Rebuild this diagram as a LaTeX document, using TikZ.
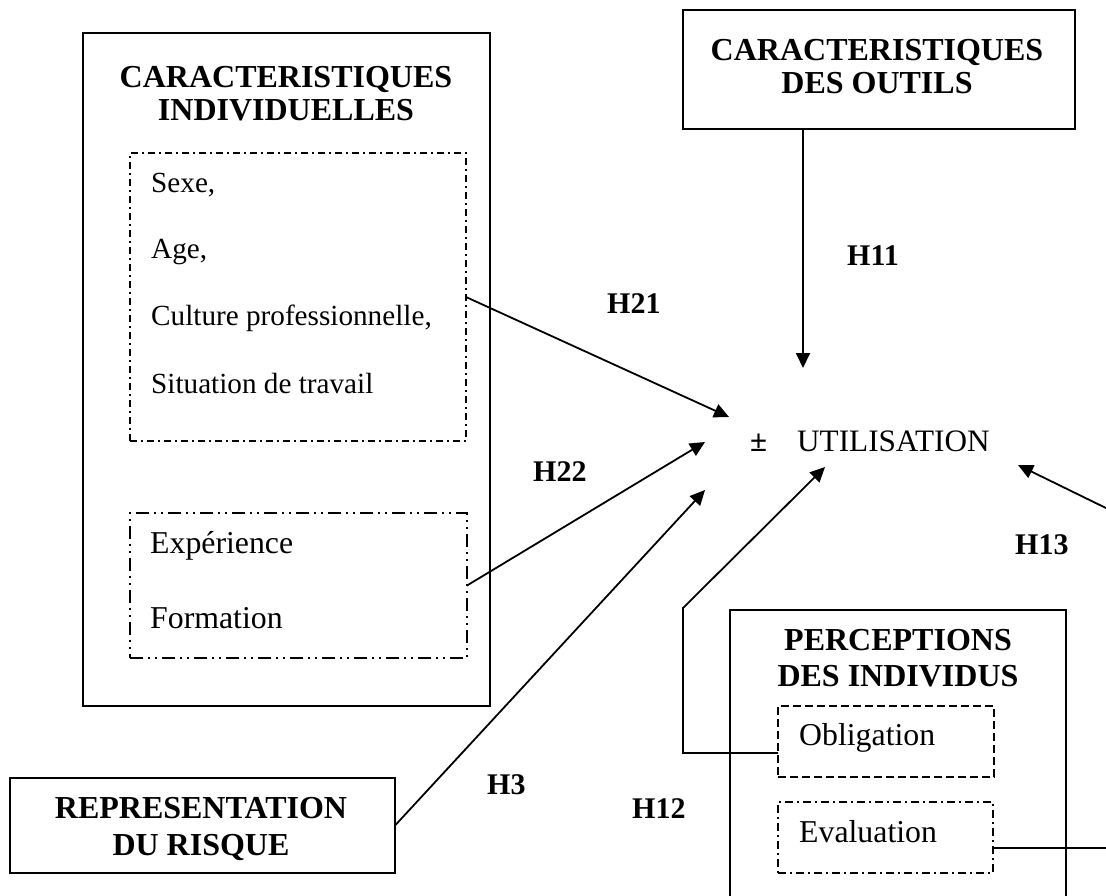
\documentclass[tikz,border=0pt]{standalone}
\usepackage{fontspec}
\setmainfont{Liberation Serif}
\usetikzlibrary{arrows.meta}
\tikzset{
  solidbox/.style={draw, line width=1.4pt, inner sep=0pt, outer sep=0pt},
  dashdotbox/.style={draw, line width=1.3pt, inner sep=0pt, outer sep=0pt, dash pattern=on 7pt off 4pt on 2pt off 4pt},
  dashdotdotbox/.style={draw, line width=1.3pt, inner sep=0pt, outer sep=0pt, dash pattern=on 13pt off 5pt on 2pt off 5pt on 2pt off 5pt},
  dashbox/.style={draw, line width=1.3pt, inner sep=0pt, outer sep=0pt, dash pattern=on 8pt off 4pt},
  evalbox/.style={draw, line width=1.3pt, inner sep=0pt, outer sep=0pt, dash pattern=on 8pt off 4pt on 2pt off 4pt},
  ttl/.style={inner sep=0pt, anchor=base, font=\fontsize{32}{36}\selectfont\bfseries},
  bigtxt/.style={inner sep=0pt, anchor=base west, font=\fontsize{31.8}{36}\selectfont},
  smalltxt/.style={inner sep=0pt, anchor=base west, font=\fontsize{29.2}{33}\selectfont},
  hlab/.style={inner sep=0pt, anchor=base west, font=\fontsize{30}{34}\selectfont\bfseries},
  conn/.style={line width=1.8pt},
  arr/.style={conn, -{Triangle[length=15pt,width=14pt]}},
}
\begin{document}
\begin{tikzpicture}[x=1pt, y=-1pt]
\useasboundingbox (0,0) rectangle (1106,895);
\clip (0,0) rectangle (1106,895);

% boxes
\node[solidbox, minimum width=407pt, minimum height=673pt] (indiv) at (286.5,369.5) {};
\node[dashdotbox, minimum width=336pt, minimum height=288pt] (perso) at (298,297) {};
\node[dashdotdotbox, minimum width=337pt, minimum height=145pt] (exp) at (298.5,585.5) {};
\node[solidbox, minimum width=392pt, minimum height=119pt] (outils) at (879,69.5) {};
\node[solidbox, minimum width=336pt, minimum height=320pt] (percep) at (898,770) {};
\node[dashbox, minimum width=216pt, minimum height=71pt] (oblig) at (886,741.5) {};
\node[evalbox, minimum width=215pt, minimum height=71pt] (eval) at (885.5,837.5) {};
\node[solidbox, minimum width=385pt, minimum height=95pt] (repr) at (202.5,825.5) {};

% titles
\node[ttl] (ti1) at (286,87) {CARACTERISTIQUES};
\node[ttl] (ti2) at (286,120) {INDIVIDUELLES};
\node[ttl] (to1) at (877,60) {CARACTERISTIQUES};
\node[ttl] (to2) at (877,93) {DES OUTILS};
\node[ttl] (tp1) at (898,650) {PERCEPTIONS};
\node[ttl] (tp2) at (898,686) {DES INDIVIDUS};
\node[ttl] (tr1) at (201,818) {REPRESENTATION};
\node[ttl] (tr2) at (201,855) {DU RISQUE};

% body texts
\node[smalltxt] (sexe) at (151,192) {Sexe,};
\node[smalltxt] (age) at (151,258) {Age,};
\node[smalltxt] (cult) at (151,325) {Culture professionnelle,};
\node[smalltxt] (situ) at (151,393) {Situation de travail};
\node[bigtxt] (expe) at (150,553) {Expérience};
\node[bigtxt] (form) at (150,628) {Formation};
\node[bigtxt] (obtxt) at (799,745) {Obligation};
\node[bigtxt] (evtxt) at (799,842) {Evaluation};

% centre
\node[inner sep=0pt, anchor=base west, font=\fontsize{31}{34}\selectfont\bfseries] (pm) at (750,451) {±};
\node[inner sep=0pt, anchor=base west, font=\fontsize{31.2}{34}\selectfont] (util) at (797,451) {UTILISATION};

% coordinates
\coordinate (t11) at (803,368);
\coordinate (t21) at (729,417);
\coordinate (t22) at (705,442);
\coordinate (t3) at (705,490);
\coordinate (t12) at (825,467);
\coordinate (b12) at (683,753);
\coordinate (b12a) at (683,608);
\coordinate (t13) at (1018,465);
\coordinate (e13) at (1110,510);
\coordinate (e14) at (1110,848);

% connectors
\draw[arr] (outils.south -| t11) -- (t11);
\draw[arr] (perso.east) -- (t21);
\draw[arr] (exp.east) -- (t22);
\draw[arr] (repr.east) -- (t3);
\draw[arr] (oblig.west |- b12) -- (b12) -- (b12a) -- (t12);
\draw[arr] (e13) -- (t13);
\draw[conn] (eval.east |- e14) -- (e14);

% labels
\node[hlab] (h11) at (847,265) {H11};
\node[hlab] (h21) at (607,313) {H21};
\node[hlab] (h22) at (533,481) {H22};
\node[hlab] (h3) at (487,794) {H3};
\node[hlab] (h12) at (632,818) {H12};
\node[hlab] (h13) at (1015,554) {H13};
\end{tikzpicture}
\end{document}
